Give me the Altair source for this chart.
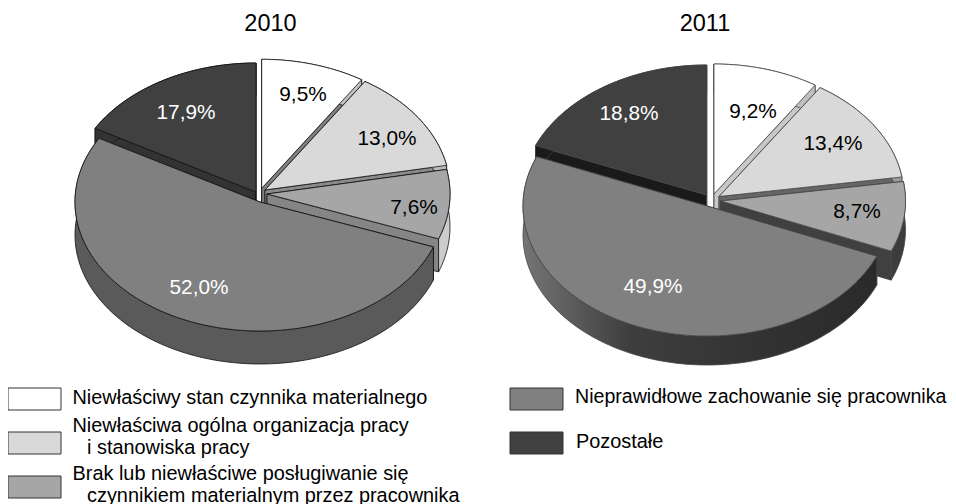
import math
import altair as alt
import pandas as pd

CATEGORIES = [
    "Niewłaściwy stan czynnika materialnego",
    "Niewłaściwa ogólna organizacja pracy",
    "Brak lub niewłaściwe posługiwanie się",
    "Nieprawidłowe zachowanie się pracownika",
    "Pozostałe",
]
VALUES_2010 = [9.5, 13.0, 7.6, 52.0, 17.9]
VALUES_2011 = [9.2, 13.4, 8.7, 49.9, 18.8]
TOP_COLORS = ["#ffffff", "#d9d9d9", "#a6a6a6", "#808080", "#404040"]

# ---- layout constants (pixel frame of the page) ----
W, H = 940, 496
FONT = "Liberation Sans"
# per wedge: centre x, centre y, radius a, radius b
GEOM_2010 = [(261.7, 188.3, 185, 129), (265, 190, 185, 129), (267, 194, 183, 129), (260, 202, 185, 129), (256, 192, 185, 129)]
GEOM_2011 = [(714, 194, 185, 130), (719, 196.5, 185, 130), (720.5, 201, 185, 130), (707, 206, 184, 130), (706.7, 195, 185, 130)]
# small perspective correction (degrees) at each wedge boundary
CORR_2010 = [0, -1.5, -2, 2, 4, 0]
CORR_2011 = [0, 0, 0, 0, 0, 0]
DEPTH_2010, DEPTH_2011 = 33, 29
FACE_2010 = ["#808080", "#8a8a8a", "#858585", "#5a5a5a", "#333333"]
SIDE_2010 = ["#c0c0c0", "#bbbbbb", "#cccccc", "#5a5a5a", "#333333"]
FACE_2011 = ["#c8c8c8", "#666666", "#404040", "#333333", "#1a1a1a"]
SIDE_2011 = ["#c0c0c0", "#999999", "#3c3c3c", None, "#1a1a1a"]
BIG_SIDE_2011 = alt.LinearGradient(
    gradient="linear", x1=0, x2=1, y1=0, y2=0,
    stops=[alt.GradientStop(color="#757575", offset=0),
           alt.GradientStop(color="#3e3e3e", offset=0.3),
           alt.GradientStop(color="#333333", offset=0.65),
           alt.GradientStop(color="#2a2a2a", offset=1)],
)
LABEL_XY_2010 = [(303, 95), (387, 139), (414, 208), (199, 288), (186, 113)]
LABEL_XY_2011 = [(753, 112), (833, 144), (857, 212), (653, 287), (629, 114)]
LABEL_COLORS = ["black", "black", "black", "white", "white"]

X = alt.Scale(domain=[8, 948], range=[0, W], nice=False, zero=False)
Y = alt.Scale(domain=[504, 8], range=[H, 0], nice=False, zero=False)


def poly(points, fill, stroke, sw=0.8):
    pts = list(points) + [points[0]]
    df = pd.DataFrame({"x": [p[0] for p in pts], "y": [p[1] for p in pts], "i": range(len(pts))})
    return alt.Chart(df).mark_line(fill=fill, stroke=stroke, strokeWidth=sw, strokeJoin="round").encode(
        x=alt.X("x:Q", scale=X, axis=None),
        y=alt.Y("y:Q", scale=Y, axis=None),
        order=alt.Order("i:Q"),
    )


def rim(g, t, dy=0.0):
    cx, cy, a, b = g
    r = math.radians(t)
    return (cx + a * math.sin(r), cy - b * math.cos(r) + dy)


def pie(values, geom, corr, depth, faces, sides, big_side, outline):
    layers = []
    cum = [0.0]
    for v in values:
        cum.append(cum[-1] + v)
    total = cum[-1]
    bounds = [c / total * 360 + d for c, d in zip(cum, corr)]
    for k in [4, 0, 1, 2, 3]:
        g, t0, t1 = geom[k], bounds[k], bounds[k + 1]
        n = max(2, int((t1 - t0) / 1.5))
        ts = [t0 + (t1 - t0) * j / n for j in range(n + 1)]
        apex = (g[0], g[1])
        low = (g[0], g[1] + depth)
        for t in (t0, t1):
            layers.append(poly([apex, rim(g, t), rim(g, t, depth), low], faces[k], outline))
        side_fill = sides[k] if sides[k] is not None else big_side
        layers.append(poly([rim(g, t) for t in ts] + [rim(g, t, depth) for t in reversed(ts)], side_fill, outline))
        layers.append(poly([apex] + [rim(g, t) for t in ts], TOP_COLORS[k], outline))
    return layers


def texts(rows, size, color="black", align="center", baseline="middle"):
    df = pd.DataFrame(rows, columns=["x", "y", "t"])
    return alt.Chart(df).mark_text(font=FONT, fontSize=size, color=color, align=align, baseline=baseline).encode(
        x=alt.X("x:Q", scale=X, axis=None),
        y=alt.Y("y:Q", scale=Y, axis=None),
        text="t:N",
    )


def pct(v):
    return f"{v:.1f}%".replace(".", ",")


layers = []
layers += pie(VALUES_2010, GEOM_2010, CORR_2010, DEPTH_2010, FACE_2010, SIDE_2010, None, "#111111")
layers += pie(VALUES_2011, GEOM_2011, CORR_2011, DEPTH_2011, FACE_2011, SIDE_2011, BIG_SIDE_2011, "#444444")

for vals, xy in ((VALUES_2010, LABEL_XY_2010), (VALUES_2011, LABEL_XY_2011)):
    for v, (x, y), c in zip(vals, xy, LABEL_COLORS):
        layers.append(texts([(x, y, pct(v))], 20.8, c))

layers.append(texts([(270.5, 24, "2010"), (705, 24, "2011")], 23.5))

# hand-built legend
SWATCHES = [(8, 61, 388, 410), (8, 61, 432, 454), (8, 61, 476, 498), (510, 563, 388, 410), (510, 563, 432, 454)]
for (x0, x1, y0, y1), col in zip(SWATCHES, TOP_COLORS):
    df = pd.DataFrame({"x": [x0], "x2": [x1], "y": [y0], "y2": [y1]})
    layers.append(
        alt.Chart(df).mark_rect(fill=col, stroke="#333333", strokeWidth=1).encode(
            x=alt.X("x:Q", scale=X, axis=None), x2="x2:Q",
            y=alt.Y("y:Q", scale=Y, axis=None), y2="y2:Q",
        )
    )
layers.append(texts([
    (72.5, 404, CATEGORIES[0]),
    (72.5, 432, CATEGORIES[1]),
    (87, 454, "i stanowiska pracy"),
    (72.5, 480, CATEGORIES[2]),
    (87, 501.5, "czynnikiem materialnym przez pracownika"),
    (576, 447.5, CATEGORIES[4]),
], 19.9, align="left", baseline="alphabetic"))
layers.append(texts([(575, 403, CATEGORIES[3])], 19.6, align="left", baseline="alphabetic"))

chart = alt.layer(*layers).properties(
    width=W, height=H, padding=0, autosize=alt.AutoSizeParams(type="none"), background="white"
).configure_view(stroke=None)

chart.save("out.html", embed_options={"renderer": "svg", "actions": False})
